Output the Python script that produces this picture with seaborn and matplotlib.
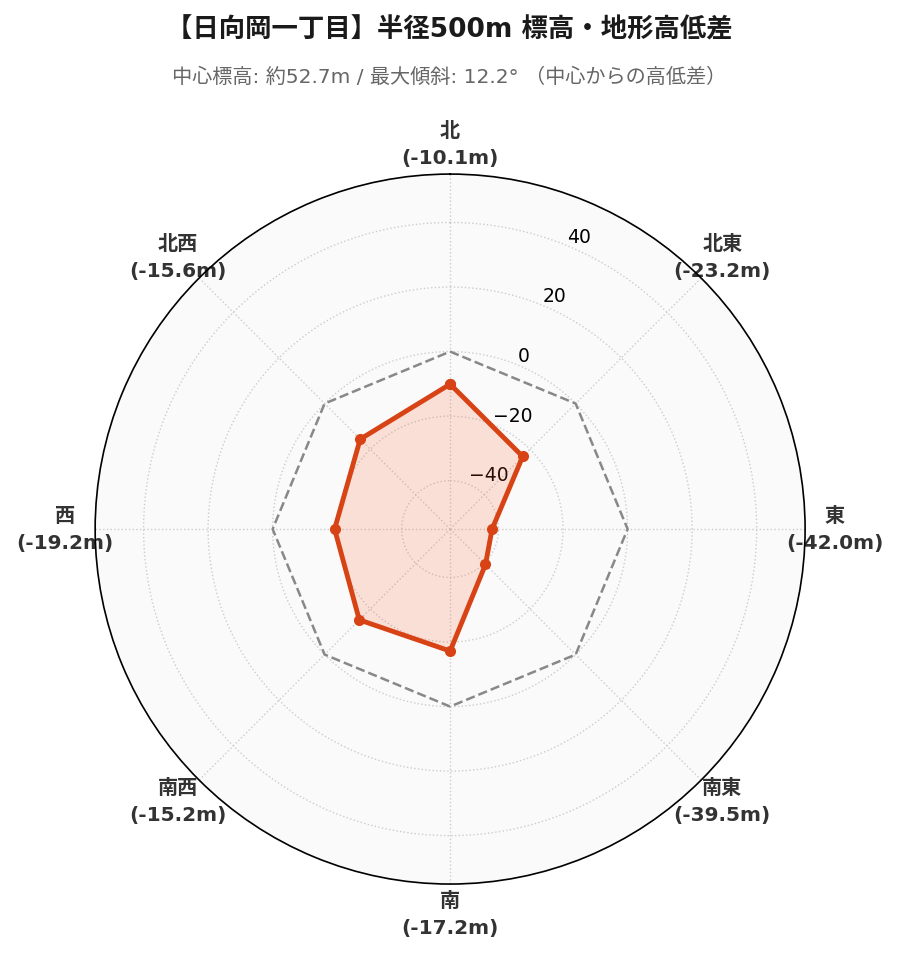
import numpy as np
import pandas as pd
import seaborn as sns
import matplotlib.pyplot as plt

# データ
directions = ['北', '北東', '東', '南東', '南', '南西', '西', '北西']
diffs = [-10.1, -23.2, -42.0, -39.5, -17.2, -15.2, -19.2, -15.6]
zero_ref = [0, 0, 0, 0, 0, 0, 0, 0]
r_ticks = [-40, -20, 0, 20, 40]
r_lim = (-55, 55)
title = '【日向岡一丁目】半径500m 標高・地形高低差'
subtitle = '中心標高: 約52.7m / 最大傾斜: 12.2° （中心からの高低差）'

sns.set_style('white')
plt.rcParams['font.family'] = ['DejaVu Sans', 'Noto Sans CJK JP']

angles = np.linspace(0, 2 * np.pi, len(directions), endpoint=False)
theta_closed = np.append(angles, 2 * np.pi)
df = pd.DataFrame({
    'theta': theta_closed,
    'diff': diffs + diffs[:1],
    'zero': zero_ref + zero_ref[:1],
})

fig = plt.figure(figsize=(8.99, 9.62), dpi=100)
ax = fig.add_axes([0.1057, 0.080, 0.790, 0.738], projection='polar')
ax.set_theta_zero_location('N')
ax.set_theta_direction(-1)
ax.set_facecolor('#fafafa')

# 0m 基準線
sns.lineplot(data=df, x='theta', y='zero', ax=ax, sort=False,
             color='#888888', linestyle='--', linewidth=1.8)
# 高低差
ax.fill(df['theta'], df['diff'], color='#ff5722', alpha=0.16, linewidth=0)
sns.lineplot(data=df, x='theta', y='diff', ax=ax, sort=False,
             color='#d84315', linewidth=3.5, marker='o', markersize=8,
             markeredgewidth=0)

ax.set_ylim(*r_lim)
ax.set_yticks(r_ticks)
ax.set_rlabel_position(22.5)
ax.tick_params(axis='y', labelsize=13.5, labelcolor='black')

ax.set_xticks(angles)
ax.set_xticklabels([f'{d}\n({v:.1f}m)' for d, v in zip(directions, diffs)],
                   fontsize=14.5, fontweight='bold', color='#333333',
                   linespacing=1.5)
ax.tick_params(axis='x', pad=11)
ax.grid(True, color='#cccccc', linestyle=':', linewidth=1)
ax.spines['polar'].set_color('black')
ax.spines['polar'].set_linewidth(1.2)
ax.set_xlabel('')
ax.set_ylabel('')

fig.text(0.5, 0.968, title, ha='center', va='center',
         fontsize=19, fontweight='bold', color='#1a1a1a')
fig.text(0.5, 0.920, subtitle, ha='center', va='center',
         fontsize=14.5, color='#666666')

plt.savefig('out.png', dpi=100)
